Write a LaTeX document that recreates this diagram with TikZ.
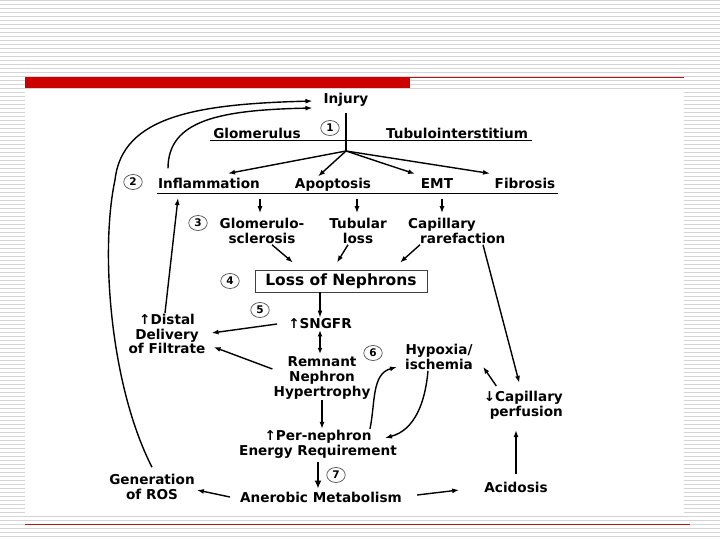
\documentclass[tikz,border=0pt]{standalone}
\usepackage{fontspec}
\setmainfont{DejaVu Sans}
\usetikzlibrary{arrows.meta,shapes.geometric,calc}
\definecolor{barred}{RGB}{204,0,0}
\definecolor{linered}{RGB}{175,25,25}
\begin{document}
\begin{tikzpicture}[x=1pt,y=-1pt,
 lbl/.style={font=\fontsize{13.6}{14.6}\selectfont\bfseries, inner sep=1pt, align=center},
 num/.style={draw=black!70, line width=0.7pt, ellipse, minimum width=18.5pt, minimum height=15pt, inner sep=0pt, font=\fontsize{10.5}{11}\selectfont\bfseries},
 arr/.style={-{Latex[length=7pt,width=5pt]}, line width=1.4pt},
 darr/.style={{Latex[length=6pt,width=5pt]}-{Latex[length=6pt,width=5pt]}, line width=1.4pt},
 thickarr/.style={-{Latex[length=8pt,width=7pt]}, line width=2.6pt},
 ln/.style={line width=1.5pt},
 stripe/.style={line width=1.1pt, black!17}]
\useasboundingbox (0,0) rectangle (720,540);
\fill[white] (0,0) rectangle (720,540);
\foreach \i in {0,...,134} \draw[stripe] (0,{4*\i+0.8}) -- (720,{4*\i+0.8});
\fill[white] (25,89) rectangle (684,515);
\fill[barred] (25,77) rectangle (410,88);
\draw[line width=0.9pt, linered] (410,77.5) -- (684,77.5);
\draw[line width=1.2pt, linered] (25,524.5) -- (690,524.5);

% top
\node[lbl] (injury) at (346,100) {Injury};
\node[lbl, anchor=base] (glom) at (257,138.5) {Glomerulus};
\node[lbl, anchor=base] (tubint) at (457,138.5) {Tubulointerstitium};
\node[num] (c1) at (330,128) {1};
\coordinate (gl) at (210,140.5);
\coordinate (gr) at (532,140.5);
\draw[ln] (gl) -- (gr);
\coordinate (br) at (346,151);
\draw[ln] ([yshift=-5pt]injury.south) -- (br);

% row 2
\node[lbl, anchor=base] (infl) at (209,189) {Inflammation};
\node[lbl, anchor=base] (apop) at (333,189) {Apoptosis};
\node[lbl, anchor=base] (emt) at (437,189) {EMT};
\node[lbl, anchor=base] (fib) at (525,189) {Fibrosis};
\node[num] (c2) at (133,182) {2};
\coordinate (ul) at (157,193.5);
\coordinate (ur) at (558,193.5);
\draw[ln] (ul) -- (ur);
\draw[arr] (br) -- ([xshift=19pt,yshift=4pt]infl.north);
\draw[arr] (br) -- ([xshift=-15pt,yshift=1pt]apop.north);
\draw[arr] (br) -- ([xshift=-22pt,yshift=4pt]emt.north);
\draw[arr] (br) -- ([xshift=-35pt,yshift=4pt]fib.north);

% row 3
\node[lbl] (glomsc) at (262,231) {Glomerulo-\\sclerosis};
\node[lbl] (tub) at (358,231) {Tubular\\loss};
\node[lbl, anchor=west, align=left] (cap) at (407,231) {Capillary\\\hspace*{12pt}rarefaction};
\node[num] (c3) at (198,223) {3};
\coordinate (r2) at (0,199);
\draw[arr] ([xshift=-2pt]glomsc.north |- r2) -- ([xshift=-2pt,yshift=4pt]glomsc.north);
\draw[arr] ([xshift=-1pt]tub.north |- r2) -- ([xshift=-1pt,yshift=4pt]tub.north);
\draw[arr] ([xshift=35pt]cap.north west |- r2) -- ([xshift=35pt,yshift=4pt]cap.north west);

% loss of nephrons
\node[lbl, draw=black!75, line width=0.8pt, font=\fontsize{15.5}{16}\selectfont\bfseries, minimum width=172pt, minimum height=22pt] (loss) at (341,281) {Loss of Nephrons};
\node[num] (c4) at (230,281) {4};
\draw[arr] ([xshift=10pt]glomsc.south) -- ([xshift=-48pt,yshift=7pt]loss.north);
\draw[arr] ([xshift=-10pt]tub.south) -- ([xshift=-4pt,yshift=7pt]loss.north);
\draw[arr] ([xshift=13pt]cap.south west) -- ([xshift=59pt,yshift=7pt]loss.north);

% middle column
\node[lbl] (sngfr) at (320,324) {↑SNGFR};
\node[num] (c5) at (260,310) {5};
\draw[arr] (loss.south -| sngfr) -- (sngfr.north);
\node[lbl] (rem) at (322,378) {Remnant\\Nephron\\Hypertrophy};
\draw[darr] (sngfr.south) -- ([yshift=2pt]sngfr.south |- rem.north);
\node[num] (c6) at (373,353) {6};
\node[lbl] (distal) at (167,334) {↑Distal\\Delivery\\of Filtrate};
\draw[arr] ([xshift=-10pt]sngfr.west) -- ([xshift=5pt,yshift=1pt]distal.east);
\draw[arr] ([yshift=9pt]rem.west) -- ([xshift=7pt,yshift=-13pt]distal.east);
\draw[arr] ([xshift=-2pt]distal.north) -- ([xshift=-31pt,yshift=-9pt]infl.base);

\node[lbl] (hyp) at (439,357) {Hypoxia/\\ischemia};
\node[lbl] (pern) at (318,444) {↑Per-nephron\\Energy Requirement};
\draw[arr] (rem.south) -- (rem.south |- pern.north);
\node[lbl, anchor=east, align=right] (perf) at (564,405) {↓Capillary\\perfusion};
\draw[arr] ([xshift=76pt]cap.south west) -- ([xshift=-4pt,yshift=7pt]perf.north);
\draw[arr] ([xshift=-27pt,yshift=4pt]perf.north) -- ([xshift=9pt,yshift=4pt]hyp.south east);
\draw[arr] ([xshift=-28pt]pern.north east) to[out=78,in=195] ([xshift=-7pt,yshift=-10pt]hyp.west);
\draw[arr] ([xshift=-11pt]hyp.south) to[out=-95,in=15] ([xshift=-13pt,yshift=6pt]pern.east);

% bottom
\node[lbl] (acid) at (516,487) {Acidosis};
\draw[arr] ([yshift=7pt]acid.north) -- ([yshift=-10pt]acid.north |- perf.south);
\node[lbl] (ane) at (321,497) {Anerobic Metabolism};
\draw[thickarr] ([yshift=-3pt]pern.south) -- ([yshift=2pt]pern.south |- ane.north);
\node[num] (c7) at (336,475) {7};
\node[lbl] (ros) at (152,487) {Generation\\of ROS};
\draw[arr] ([xshift=-9pt]ane.west) -- ([xshift=1pt,yshift=-3pt]ros.east);
\draw[arr] ([xshift=14pt,yshift=2pt]ane.east) -- ([xshift=-24pt,yshift=-3pt]acid.west);

% feedback curves to injury
\draw[arr] ([xshift=-41pt,yshift=9pt]infl.north) .. controls (168,120) and (220,110) .. ([xshift=-10pt,yshift=-8pt]injury.west);
\draw[arr] ([yshift=6pt]ros.north) .. controls (110,385) and (100,250) .. (115,180) .. controls (122,115) and (200,104) .. ([xshift=-10pt,yshift=-1pt]injury.west);
\end{tikzpicture}
\end{document}
